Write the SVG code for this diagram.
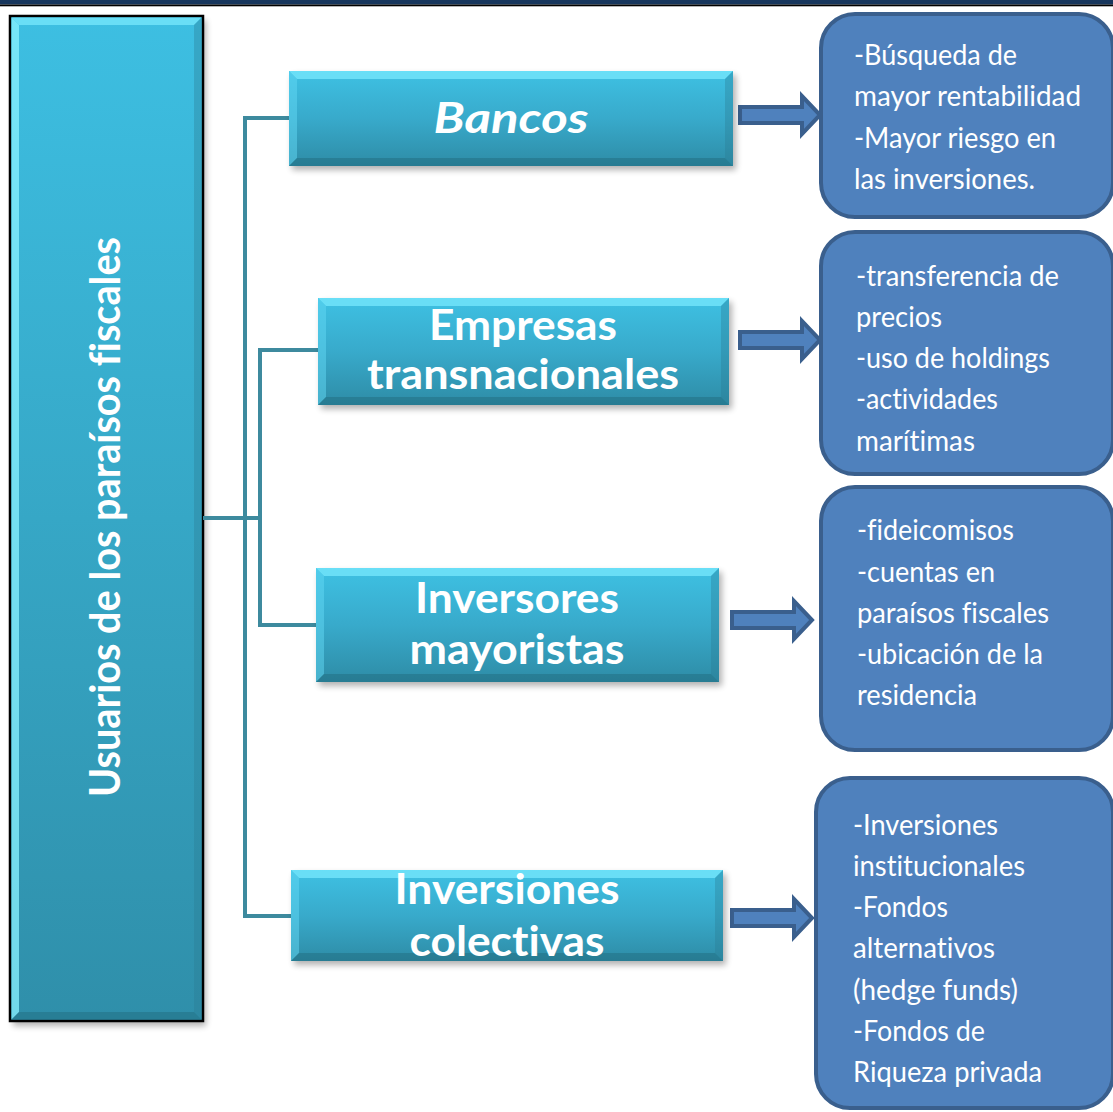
<svg xmlns="http://www.w3.org/2000/svg" width="1113" height="1112" viewBox="0 0 1113 1112">
  <defs>
    <linearGradient id="cyanFill" x1="0" y1="0" x2="0" y2="1">
      <stop offset="0" stop-color="#3EC1E3"/>
      <stop offset="0.5" stop-color="#38AACB"/>
      <stop offset="1" stop-color="#2E8CA6"/>
    </linearGradient>
    <linearGradient id="sideFill" x1="0" y1="0" x2="0" y2="1">
      <stop offset="0" stop-color="#3DBFE2"/>
      <stop offset="1" stop-color="#2F8FAA"/>
    </linearGradient>
    <filter id="softShadow" x="-10%" y="-10%" width="120%" height="130%">
      <feGaussianBlur stdDeviation="3"/>
    </filter>
    <path id="blockArrow" d="M0,-8 H62 V-19 L80,0 L62,19 V8 H0 Z"/>
  </defs>
  <style>
    text { font-variant-ligatures: none; font-feature-settings: "liga" 0, "clig" 0; }
    .shadow { fill: #000; opacity: 0.3; filter: url(#softShadow); }
    .body { fill: url(#cyanFill); }
    .bevel-top { fill: #7CEBFF; opacity: 0.7; }
    .bevel-left { fill: #62D8F3; opacity: 0.5; }
    .bevel-bottom { fill: #1F6375; opacity: 0.4; }
    .bevel-right { fill: #2A7C92; opacity: 0.35; }
    .head { font-family: Lato, "Open Sans", sans-serif; font-weight: 700; font-size: 42px; fill: #FFFFFF; text-anchor: middle; }
    .detail-box { fill: #4F81BD; stroke: #3A5F8D; stroke-width: 4; }
    .detail { font-family: Lato, "Open Sans", sans-serif; font-size: 29px; fill: #FFFFFF; }
    .link { fill: none; stroke: #3D8A9E; stroke-width: 4; }
    .arrow { fill: #4F81BD; stroke: #3A5F8D; stroke-width: 4; stroke-linejoin: miter; }
  </style>

  <!-- page header rule -->
  <rect x="0" y="0" width="1113" height="4.5" fill="#17365D"/>
  <rect x="0" y="4.5" width="1113" height="1.8" fill="#000000"/>

  <!-- vertical title bar -->
  <g id="node-usuarios">
    <rect class="shadow" x="13" y="20" width="193" height="1006"/>
    <rect x="10" y="16" width="193" height="1005" fill="url(#sideFill)" stroke="#000000" stroke-width="2.5"/>
    <polygon class="bevel-top" points="11.5,17.5 201.5,17.5 194,25 19,25"/>
    <polygon fill="#8AF2FF" opacity="0.75" points="11.5,17.5 19,25 19,1012 11.5,1019.5"/>
    <polygon class="bevel-bottom" points="11.5,1019.5 201.5,1019.5 194,1012 19,1012"/>
    <polygon class="bevel-right" points="201.5,17.5 201.5,1019.5 194,1012 194,25"/>
    <text class="head" transform="translate(120,517) rotate(-90)" x="0" y="0" textLength="560" lengthAdjust="spacingAndGlyphs">Usuarios de los paraísos fiscales</text>
  </g>

  <!-- tree connectors and arrows -->
  <g id="connectors">
    <path class="link" d="M203,518 H260"/>
    <path class="link" d="M289,118 H245 V916 H291"/>
    <path class="link" d="M318,350 H260 V625 H316"/>
    <use href="#blockArrow" class="arrow" transform="translate(740,115)"/>
    <use href="#blockArrow" class="arrow" transform="translate(740,340)"/>
    <use href="#blockArrow" class="arrow" transform="translate(732,620)"/>
    <use href="#blockArrow" class="arrow" transform="translate(732,918)"/>
  </g>

  <g id="node-bancos">
    <rect class="shadow" x="292" y="75" width="444" height="95"/>
    <rect class="body" x="289" y="71" width="444" height="95"/>
    <polygon class="bevel-top" points="289,71 733,71 725,79 297,79"/>
    <polygon class="bevel-left" points="289,71 297,79 297,158 289,166"/>
    <polygon class="bevel-bottom" points="289,166 733,166 725,158 297,158"/>
    <polygon class="bevel-right" points="733,71 733,166 725,158 725,79"/>
    <text class="head" x="511" y="133" font-style="italic" font-size="47" textLength="155" lengthAdjust="spacingAndGlyphs">Bancos</text>
  </g>

  <g id="node-empresas">
    <rect class="shadow" x="321" y="302" width="411" height="107"/>
    <rect class="body" x="318" y="298" width="411" height="107"/>
    <polygon class="bevel-top" points="318,298 729,298 721,306 326,306"/>
    <polygon class="bevel-left" points="318,298 326,306 326,397 318,405"/>
    <polygon class="bevel-bottom" points="318,405 729,405 721,397 326,397"/>
    <polygon class="bevel-right" points="729,298 729,405 721,397 721,306"/>
    <text class="head" x="523" y="340" textLength="188" lengthAdjust="spacingAndGlyphs">Empresas</text>
    <text class="head" x="523" y="389" textLength="312" lengthAdjust="spacingAndGlyphs">transnacionales</text>
  </g>

  <g id="node-inversores">
    <rect class="shadow" x="319" y="572" width="403" height="114"/>
    <rect class="body" x="316" y="568" width="403" height="114"/>
    <polygon class="bevel-top" points="316,568 719,568 711,576 324,576"/>
    <polygon class="bevel-left" points="316,568 324,576 324,674 316,682"/>
    <polygon class="bevel-bottom" points="316,682 719,682 711,674 324,674"/>
    <polygon class="bevel-right" points="719,568 719,682 711,674 711,576"/>
    <text class="head" x="517" y="613" textLength="204" lengthAdjust="spacingAndGlyphs">Inversores</text>
    <text class="head" x="517" y="664" textLength="215" lengthAdjust="spacingAndGlyphs">mayoristas</text>
  </g>

  <g id="node-colectivas">
    <rect class="shadow" x="294" y="874" width="432" height="91"/>
    <rect class="body" x="291" y="870" width="432" height="91"/>
    <polygon class="bevel-top" points="291,870 723,870 715,878 299,878"/>
    <polygon class="bevel-left" points="291,870 299,878 299,953 291,961"/>
    <polygon class="bevel-bottom" points="291,961 723,961 715,953 299,953"/>
    <polygon class="bevel-right" points="723,870 723,961 715,953 715,878"/>
    <text class="head" x="507" y="904" textLength="225" lengthAdjust="spacingAndGlyphs">Inversiones</text>
    <text class="head" x="507" y="956" textLength="195" lengthAdjust="spacingAndGlyphs">colectivas</text>
  </g>

  <g id="detail-bancos">
    <rect class="detail-box" x="821" y="14" width="292" height="203" rx="34"/>
    <text class="detail" x="854" y="65" textLength="163" lengthAdjust="spacingAndGlyphs">-Búsqueda de</text>
    <text class="detail" x="854" y="106" textLength="227" lengthAdjust="spacingAndGlyphs">mayor rentabilidad</text>
    <text class="detail" x="854" y="148" textLength="202" lengthAdjust="spacingAndGlyphs">-Mayor riesgo en</text>
    <text class="detail" x="854" y="189" textLength="181" lengthAdjust="spacingAndGlyphs">las inversiones.</text>
  </g>

  <g id="detail-empresas">
    <rect class="detail-box" x="821" y="232" width="292" height="242" rx="34"/>
    <text class="detail" x="856" y="286" textLength="203" lengthAdjust="spacingAndGlyphs">-transferencia de</text>
    <text class="detail" x="856" y="327" textLength="86" lengthAdjust="spacingAndGlyphs">precios</text>
    <text class="detail" x="856" y="368" textLength="194" lengthAdjust="spacingAndGlyphs">-uso de holdings</text>
    <text class="detail" x="856" y="409" textLength="142" lengthAdjust="spacingAndGlyphs">-actividades</text>
    <text class="detail" x="856" y="451" textLength="119" lengthAdjust="spacingAndGlyphs">marítimas</text>
  </g>

  <g id="detail-inversores">
    <rect class="detail-box" x="821" y="487" width="292" height="263" rx="34"/>
    <text class="detail" x="857" y="540" textLength="157" lengthAdjust="spacingAndGlyphs">-fideicomisos</text>
    <text class="detail" x="857" y="582" textLength="138" lengthAdjust="spacingAndGlyphs">-cuentas en</text>
    <text class="detail" x="857" y="623" textLength="192" lengthAdjust="spacingAndGlyphs">paraísos fiscales</text>
    <text class="detail" x="857" y="664" textLength="186" lengthAdjust="spacingAndGlyphs">-ubicación de la</text>
    <text class="detail" x="857" y="705" textLength="120" lengthAdjust="spacingAndGlyphs">residencia</text>
  </g>

  <g id="detail-colectivas">
    <rect class="detail-box" x="816" y="778" width="297" height="330" rx="34"/>
    <text class="detail" x="853" y="835" textLength="145" lengthAdjust="spacingAndGlyphs">-Inversiones</text>
    <text class="detail" x="853" y="876" textLength="172" lengthAdjust="spacingAndGlyphs">institucionales</text>
    <text class="detail" x="853" y="917" textLength="95" lengthAdjust="spacingAndGlyphs">-Fondos</text>
    <text class="detail" x="853" y="958" textLength="142" lengthAdjust="spacingAndGlyphs">alternativos</text>
    <text class="detail" x="853" y="1000" textLength="165" lengthAdjust="spacingAndGlyphs">(hedge funds)</text>
    <text class="detail" x="853" y="1041" textLength="132" lengthAdjust="spacingAndGlyphs">-Fondos de</text>
    <text class="detail" x="853" y="1082" textLength="189" lengthAdjust="spacingAndGlyphs">Riqueza privada</text>
  </g>
</svg>
